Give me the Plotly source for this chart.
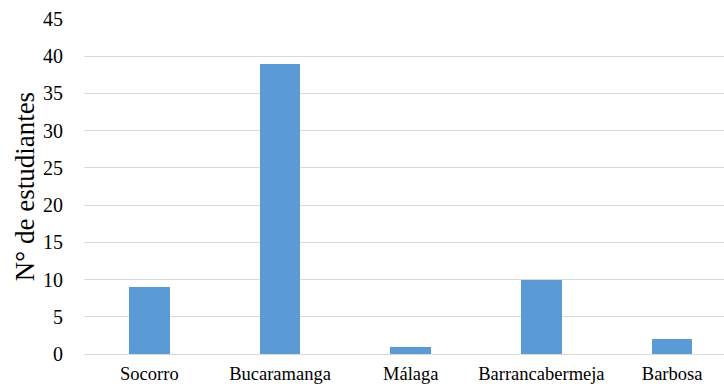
import plotly.graph_objects as go

ciudades = ["Socorro", "Bucaramanga", "Málaga", "Barrancabermeja", "Barbosa"]
estudiantes = [9, 39, 1, 10, 2]
ticks_y = [0, 5, 10, 15, 20, 25, 30, 35, 40, 45]

fig = go.Figure(go.Bar(
    x=list(range(len(ciudades))),
    y=estudiantes,
    marker=dict(color="#5b9bd5", line=dict(width=0)),
    width=0.31,
))

fig.update_layout(
    width=724, height=387,
    margin=dict(l=84, r=0, t=19, b=33),
    paper_bgcolor="white", plot_bgcolor="white",
    font=dict(family="Liberation Serif", color="#000000"),
    showlegend=False,
    bargap=0,
)
fig.update_xaxes(
    range=[-0.5, 4.397],
    tickmode="array", tickvals=list(range(len(ciudades))), ticktext=ciudades,
    tickfont=dict(size=18.5), showgrid=False, zeroline=False, showline=False,
    ticks="outside", ticklen=3, tickcolor="rgba(0,0,0,0)",
)
fig.update_yaxes(
    range=[0, 45], tickmode="array", tickvals=ticks_y,
    tickfont=dict(size=20), showgrid=True, gridcolor="#d9d9d9", gridwidth=1,
    zeroline=True, zerolinecolor="#d9d9d9", zerolinewidth=1,
    showline=False, ticks="outside", ticklen=16, tickcolor="rgba(0,0,0,0)",
    title=dict(text="N° de estudiantes", font=dict(size=27), standoff=0),
)

fig.write_html("out.html")
